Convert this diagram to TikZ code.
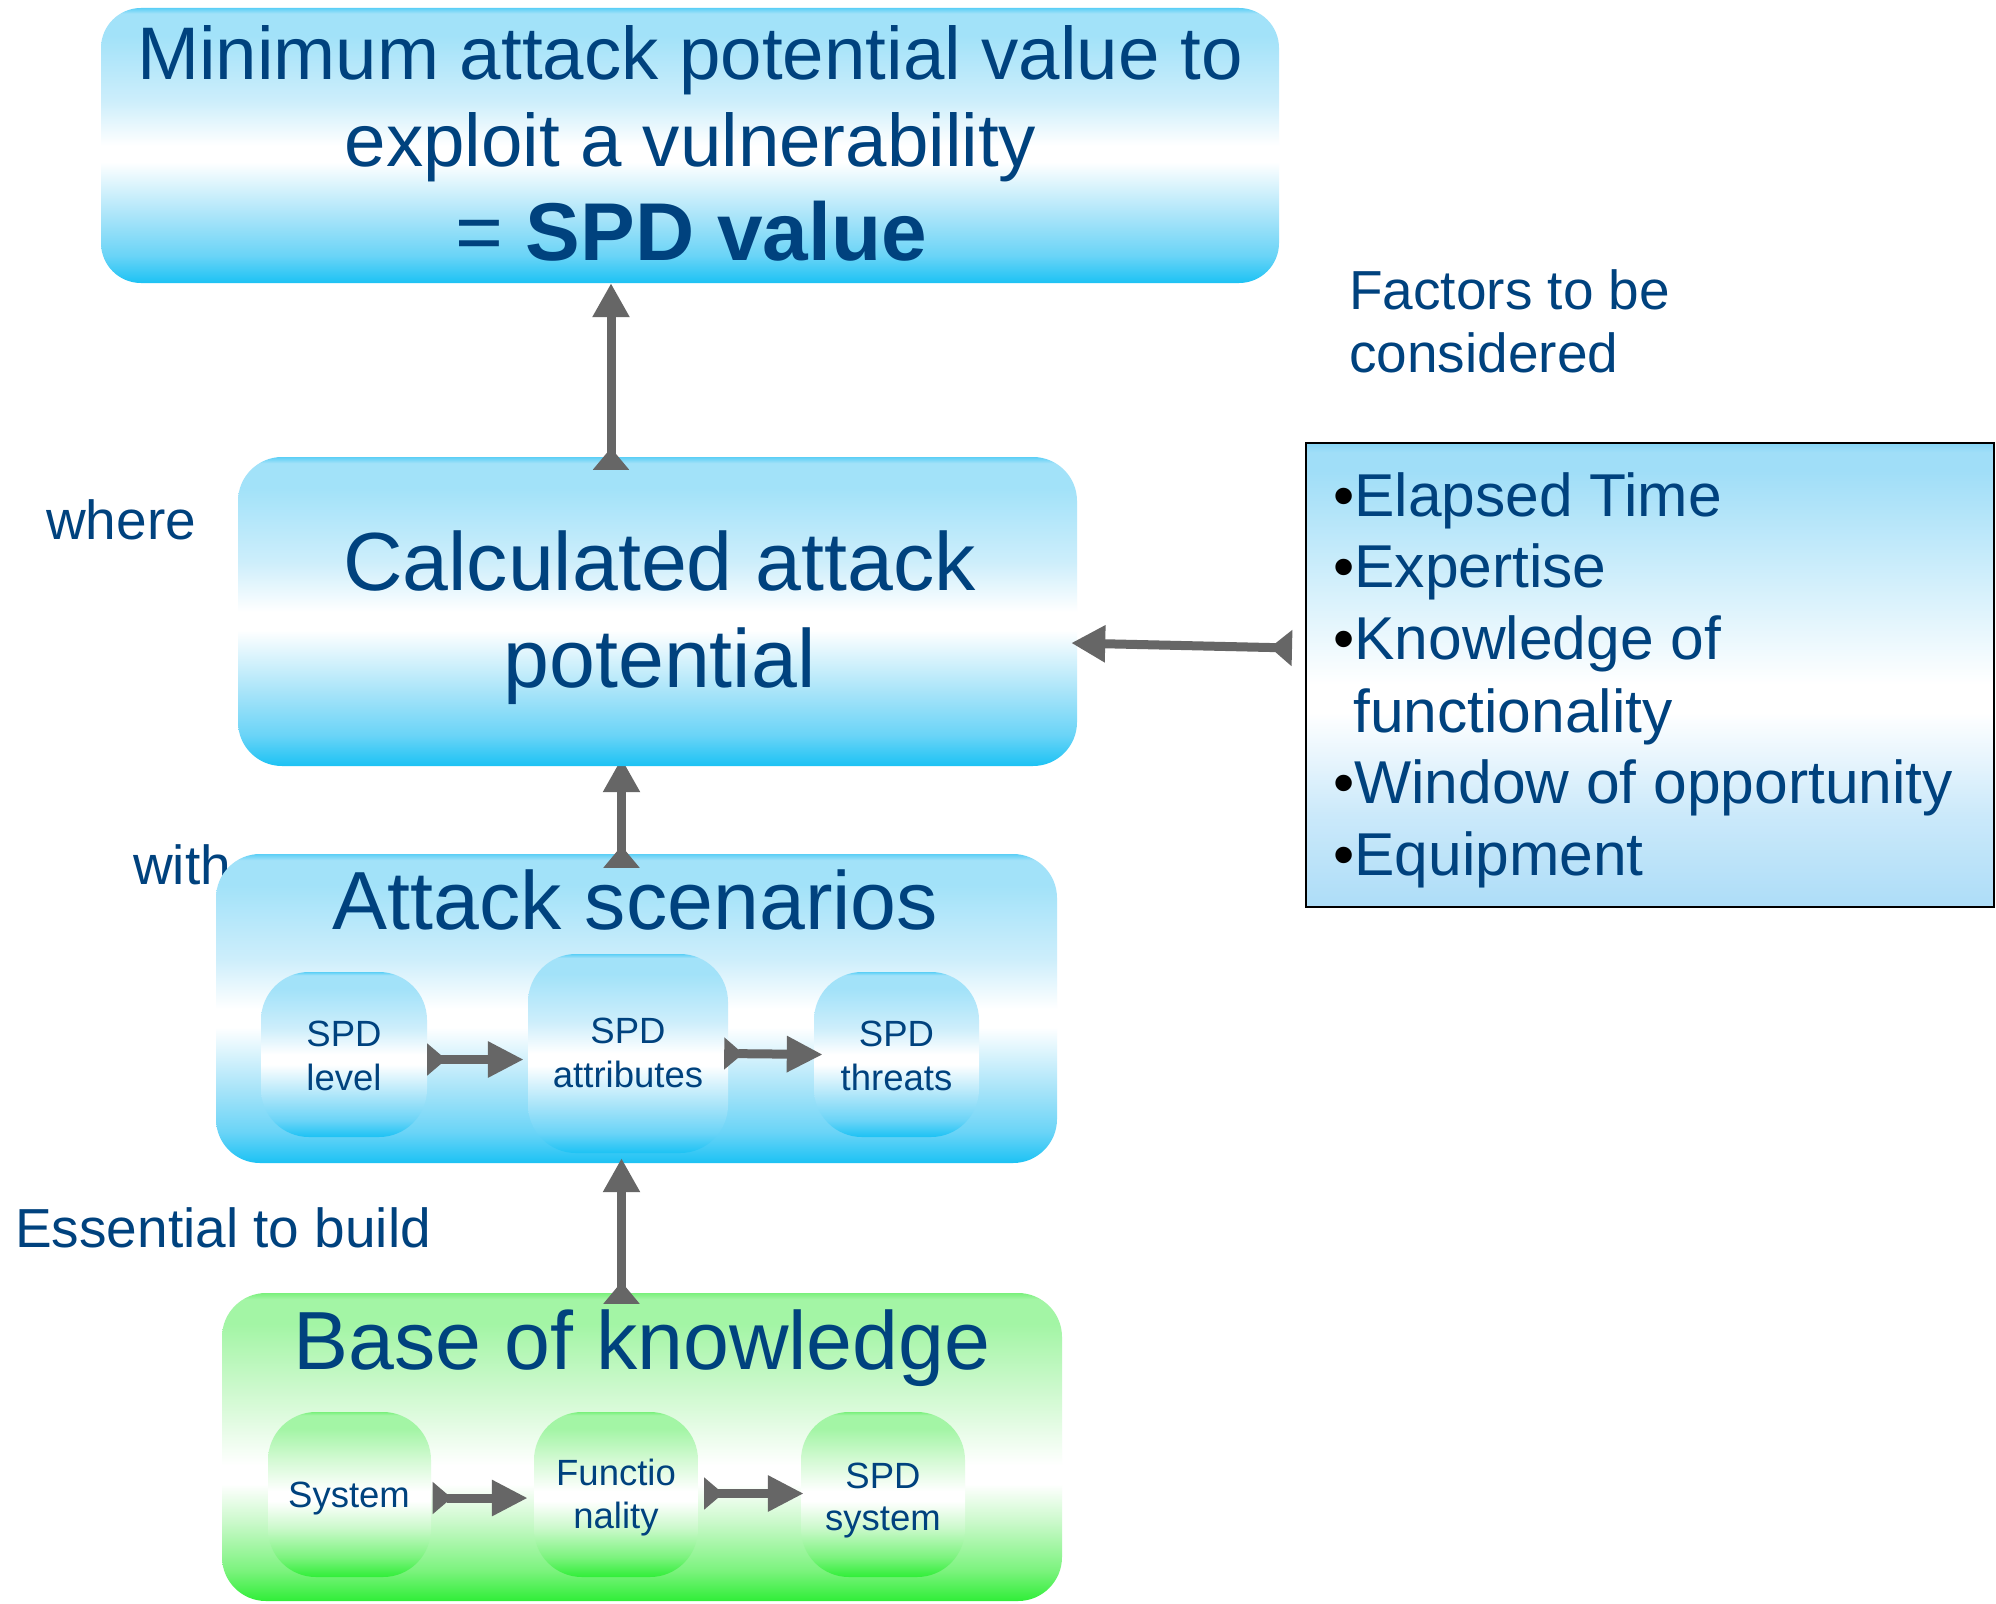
\documentclass[tikz,border=0pt]{standalone}
\usepackage{fontspec}
\setmainfont{Liberation Sans}
\usetikzlibrary{arrows.meta}

% text and connector colours
\definecolor{txt}{RGB}{0,66,126}
\definecolor{arrowgray}{HTML}{666666}

% blue gradient stops
\definecolor{bA}{HTML}{1CC2F4}
\definecolor{bB}{HTML}{6AD4F7}
\definecolor{bC}{HTML}{A8E4F9}
\definecolor{bD}{HTML}{CDEEFB}
\definecolor{bE}{HTML}{A2E2F9}
\definecolor{bF}{HTML}{5CCFF6}
% green gradient stops
\definecolor{gA}{HTML}{30EE38}
\definecolor{gB}{HTML}{7CF37E}
\definecolor{gC}{HTML}{CCF9CC}
\definecolor{gD}{HTML}{D6FAD6}
\definecolor{gE}{HTML}{A3F5A5}
\definecolor{gF}{HTML}{7AF07C}
% factors panel gradient stops
\definecolor{fA}{HTML}{ADDDF8}
\definecolor{fB}{HTML}{CBE9FA}
\definecolor{fD}{HTML}{D2EFFB}
\definecolor{fE}{HTML}{A0DEF8}
\definecolor{fF}{HTML}{86D5F6}

\pgfdeclareverticalshading{bluegrad}{100bp}{color(0bp)=(bA); color(25bp)=(bA); color(30bp)=(bB); color(37bp)=(bC); color(47bp)=(white); color(50bp)=(white); color(58bp)=(bD); color(70bp)=(bE); color(74bp)=(bE); color(75bp)=(bF); color(100bp)=(bF)}
\pgfdeclareverticalshading{greengrad}{100bp}{color(0bp)=(gA); color(25bp)=(gA); color(30bp)=(gB); color(38bp)=(gC); color(44bp)=(white); color(47bp)=(white); color(57bp)=(gD); color(70bp)=(gE); color(74bp)=(gE); color(75bp)=(gF); color(100bp)=(gF)}
\pgfdeclareverticalshading{greensmall}{100bp}{color(0bp)=(gA); color(25bp)=(gA); color(31bp)=(gB); color(40bp)=(gC); color(48bp)=(white); color(51bp)=(white); color(60bp)=(gD); color(70bp)=(gE); color(74bp)=(gE); color(75bp)=(gF); color(100bp)=(gF)}
\pgfdeclareverticalshading{factgrad}{100bp}{color(0bp)=(fA); color(25bp)=(fA); color(35bp)=(fB); color(46bp)=(white); color(49bp)=(white); color(60bp)=(fD); color(72bp)=(fE); color(74bp)=(fE); color(75bp)=(fF); color(100bp)=(fF)}

\pgfdeclarelayer{front}
\pgfdeclarelayer{topmost}
\pgfsetlayers{main,front,topmost}

\tikzset{
  bigblue/.style={shade, shading=bluegrad, rounded corners=44pt, inner sep=0pt},
  biggreen/.style={shade, shading=greengrad, rounded corners=44pt, inner sep=0pt},
  smallblue/.style={shade, shading=bluegrad, rounded corners=48pt, inner sep=0pt},
  smallgreen/.style={shade, shading=greensmall, rounded corners=48pt, inner sep=0pt},
  panel/.style={shade, shading=factgrad, draw=black, line width=2pt, inner sep=0pt},
  txtnode/.style={text=txt, inner sep=0pt, anchor=base},
  headline/.style={txtnode, font=\fontsize{74.5}{86}\selectfont},
  boxtitle/.style={txtnode, font=\fontsize{82.5}{96}\selectfont},
  smalltxt/.style={txtnode, font=\fontsize{36.5}{44}\selectfont},
  sidelabel/.style={txtnode, anchor=base west, font=\fontsize{55}{64}\selectfont},
  listitem/.style={txtnode, anchor=base west, font=\fontsize{60.5}{72}\selectfont},
  conn/.style={draw=arrowgray, line width=9pt,
    arrows={Triangle[reversed,width=35pt,length=22pt]-Triangle[width=35pt,length=34pt]}},
  connsm/.style={draw=arrowgray, line width=9pt,
    arrows={Triangle[reversed,width=31pt,length=19pt]-Triangle[width=34pt,length=36pt]}},
}

\begin{document}
\begin{tikzpicture}[x=1pt,y=-1pt]
\fill[white] (0,0) rectangle (1996,1603);
\useasboundingbox (0,0) rectangle (1996,1603);

% side labels
\node[sidelabel] (where) at (46,539) {where};
\node[sidelabel] (with) at (133,884) {with};
\node[sidelabel] (essential) at (15,1247) {Essential to build};
\node[sidelabel] (fac1) at (1349,309) {Factors to be};
\node[sidelabel] (fac2) at (1349,372) {considered};

% main boxes
\node[bigblue, rounded corners=40pt, minimum width=1178pt, minimum height=275pt] (top) at (690,145.5) {};
\node[bigblue, minimum width=841pt, minimum height=309pt] (attack) at (636.5,1008.5) {};
\node[biggreen, minimum width=840pt, minimum height=308pt] (base) at (642,1447) {};
\node[panel, minimum width=688pt, minimum height=464pt] (factors) at (1650,675) {};
\begin{pgfonlayer}{front}
\node[bigblue, minimum width=839pt, minimum height=309pt] (calc) at (657.5,611.5) {};
\node[boxtitle] (c1) at (659.5,590) {Calculated attack};
\node[boxtitle] (c2) at (659.5,687) {potential};
\end{pgfonlayer}

% inner boxes of the attack scenarios
\node[smallblue, minimum width=166pt, minimum height=165pt] (lvl) at (344,1054.5) {};
\node[smallblue, minimum width=200pt, minimum height=199pt] (attr) at (628,1053.5) {};
\node[smallblue, minimum width=165pt, minimum height=165pt] (thr) at (896.5,1054.5) {};
% inner boxes of the base of knowledge
\node[smallgreen, minimum width=163pt, minimum height=165pt] (sys) at (349.5,1494.5) {};
\node[smallgreen, minimum width=164pt, minimum height=165pt] (fun) at (616,1494.5) {};
\node[smallgreen, minimum width=164pt, minimum height=165pt] (spds) at (883,1494.5) {};

% headline texts
\node[headline] (t1) at (690,80) {Minimum attack potential value to};
\node[headline] (t2) at (690.5,166) {exploit a vulnerability};
\node[txtnode, font=\fontsize{82}{96}\selectfont] (t3) at (691,260) {= \textbf{SPD value}};
\node[boxtitle] (atitle) at (635.5,929) {Attack scenarios};
\node[boxtitle] (btitle) at (642,1369) {Base of knowledge};

% inner box texts
\node[smalltxt] (lvl1) at (344,1046) {SPD};
\node[smalltxt] (lvl2) at (344,1090) {level};
\node[smalltxt] (attr1) at (628,1043) {SPD};
\node[smalltxt] (attr2) at (628,1087) {attributes};
\node[smalltxt] (thr1) at (896.5,1046) {SPD};
\node[smalltxt] (thr2) at (896.5,1090) {threats};
\node[smalltxt] (sys1) at (349,1507) {System};
\node[smalltxt] (fun1) at (616,1485) {Functio};
\node[smalltxt] (fun2) at (616,1528) {nality};
\node[smalltxt] (spds1) at (883,1488) {SPD};
\node[smalltxt] (spds2) at (883,1530) {system};

% list of factors
\node[listitem] (f1) at (1333,516) {{\color{black}\textbullet}Elapsed Time};
\node[listitem] (f2) at (1333,587) {{\color{black}\textbullet}Expertise};
\node[listitem] (f3) at (1333,659) {{\color{black}\textbullet}Knowledge of};
\node[listitem] (f4) at (1353,732) {functionality};
\node[listitem] (f5) at (1333,803) {{\color{black}\textbullet}Window of opportunity};
\node[listitem] (f6) at (1333,875) {{\color{black}\textbullet}Equipment};

% connectors
% attack scenarios -> calculated potential (tip runs under the box)
\draw[conn] ([xshift=-15pt,yshift=-14pt]attack.north) -- ([xshift=-36pt,yshift=8pt]calc.south);
% base of knowledge -> attack scenarios
\draw[conn] ([xshift=-20.5pt,yshift=-11pt]base.north) -- ([xshift=-15pt,yshift=5pt]attack.south);
% chains inside the boxes
\draw[connsm] ([yshift=-5pt]lvl.east) -- ([xshift=-4pt,yshift=-6pt]attr.west);
\draw[connsm] ([xshift=-4pt]attr.east) -- ([xshift=9pt]thr.west);
\draw[connsm] ([xshift=1.5pt,yshift=-3.5pt]sys.east) -- ([xshift=-6pt,yshift=-3.5pt]fun.west);
\draw[connsm] ([xshift=6pt,yshift=1pt]fun.east) -- ([xshift=3pt,yshift=1pt]spds.west);
\begin{pgfonlayer}{topmost}
% calculated potential -> SPD value
\draw[conn] ([xshift=-46.5pt,yshift=-13pt]calc.north) -- ([xshift=-79pt]top.south);
% factors -> calculated potential
\draw[conn] ([xshift=-13pt,yshift=27pt]factors.west) -- ([xshift=-6pt,yshift=-31.5pt]calc.east);
\end{pgfonlayer}
\end{tikzpicture}
\end{document}
